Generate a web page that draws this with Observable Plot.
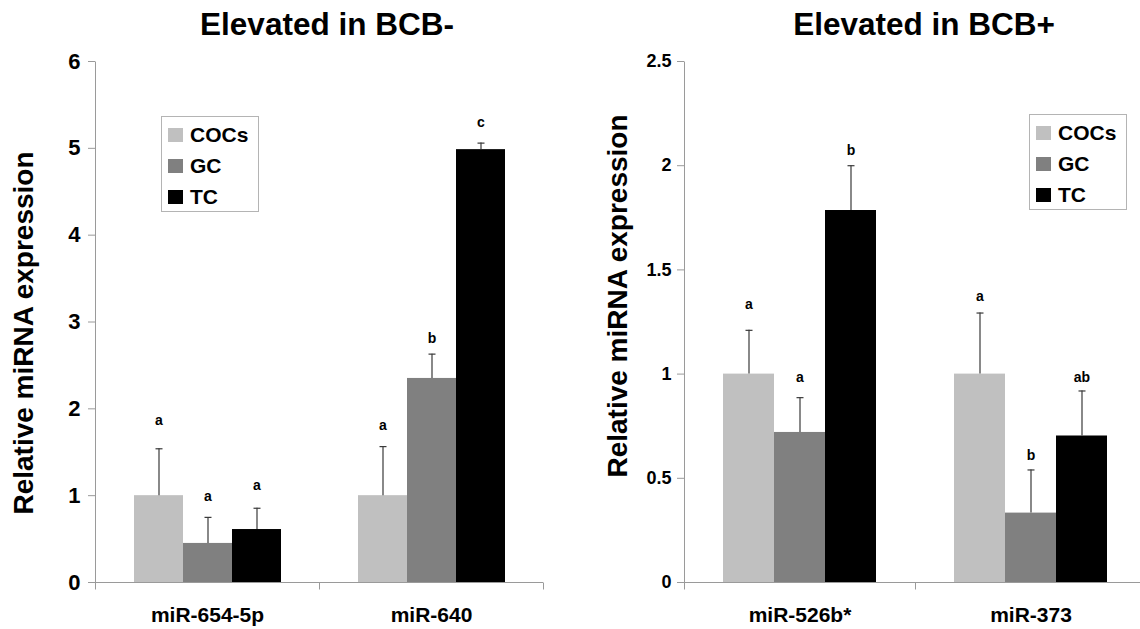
<!DOCTYPE html>
<html>
<head>
<meta charset="utf-8">
<script src="https://cdn.jsdelivr.net/npm/d3@7"></script>
<script src="https://cdn.jsdelivr.net/npm/@observablehq/plot@0.6"></script>
<style>
  body { margin: 0; background: #fff; }
  #root { position: relative; width: 1140px; height: 629px; overflow: hidden; background: #fff;
          font-family: "Liberation Sans", Arial, Helvetica, sans-serif; }
  .title { font-size: 31.5px; font-weight: bold; line-height: 32px; text-align: center; width: 400px; color: #000;
           white-space: nowrap; }
  .ylab { font-size: 28px; font-weight: bold; line-height: 30px; height: 30px; width: 520px; text-align: center;
          transform: rotate(-90deg); color: #000; white-space: nowrap; }
  .legend { border: 1px solid #b4b4b4; background: #fff; box-sizing: border-box; }
  .row { position: absolute; left: 6px; height: 20px; line-height: 20px; display: flex; align-items: center;
         font-size: 21px; font-weight: bold; color: #000; white-space: nowrap; }
  .sw { width: 15px; height: 14px; margin-right: 7px; flex: none; }
</style>
</head>
<body>
<div id="root"></div>
<script>
// ---------- data ----------
const series = ["COCs", "GC", "TC"];
const colors = ["#c0c0c0", "#808080", "#000000"];

const leftTitle = "Elevated in BCB-";
const leftGroups = ["miR-654-5p", "miR-640"];
const leftValues = [[1.0, 0.45, 0.61], [1.0, 2.35, 4.985]];
const leftSD = [[0.54, 0.30, 0.245], [0.565, 0.28, 0.075]];
const leftLetters = [["a", "a", "a"], ["a", "b", "c"]];
const leftLetterY = [[1.87, 0.99, 1.12], [1.81, 2.81, 5.30]];
const leftTicks = [0, 1, 2, 3, 4, 5, 6];

const rightTitle = "Elevated in BCB+";
const rightGroups = ["miR-526b*", "miR-373"];
const rightValues = [[1.0, 0.72, 1.785], [1.0, 0.333, 0.703]];
const rightSD = [[0.21, 0.167, 0.215], [0.293, 0.207, 0.216]];
const rightLetters = [["a", "a", "b"], ["a", "b", "ab"]];
const rightLetterY = [[1.336, 0.982, 2.075], [1.373, 0.611, 0.982]];
const rightTicks = [0, 0.5, 1, 1.5, 2, 2.5];

const yLabel = "Relative miRNA expression";

// ---------- layout ----------
const H = 629, MT = 61, MB = 47;
const axisGray = "#9a9a9a";
const errColor = "#3a3a3a";

function panel({groups, values, sds, letters, letterY, ticks, tickFont, tickPad, marginLeft, marginRight, width, padOuter}) {
  const data = groups.flatMap((g, gi) => series.map((s, si) => ({
    group: g, series: s, value: values[gi][si], sd: sds[gi][si],
    letter: letters[gi][si], ly: letterY[gi][si]
  })));
  const plotH = H - MT - MB;
  const tickSym = {draw(c) { c.moveTo(0, 0); c.lineTo(0, 7); }};
  const axisSym = {draw(c) { c.moveTo(0, 7); c.lineTo(0, -plotH); }};
  const capSym = {draw(c) { c.moveTo(-3.5, 0); c.lineTo(3.5, 0); }};
  return Plot.plot({
    width, height: H, marginLeft, marginRight, marginTop: MT, marginBottom: MB,
    style: {fontFamily: "'Liberation Sans', Arial, Helvetica, sans-serif", background: "transparent", overflow: "visible"},
    fx: {domain: groups, padding: 0, axis: null, label: null},
    x: {domain: series, paddingInner: 0, paddingOuter: padOuter, axis: null},
    y: {domain: [0, ticks[ticks.length - 1]], axis: null},
    color: {domain: series, range: colors},
    marks: [
      Plot.barY(data, {fx: "group", x: "series", y1: 0, y2: "value", fill: "series"}),
      Plot.ruleY([0], {stroke: axisGray, strokeWidth: 1}),
      Plot.dot([groups[0]], {fx: d => d, x: null, y: null, frameAnchor: "bottom-left", symbol: axisSym, r: 1, fill: "none", stroke: axisGray, strokeWidth: 1}),
      Plot.dot(groups.slice(1), {fx: d => d, x: null, y: null, frameAnchor: "bottom-left", symbol: tickSym, r: 1, fill: "none", stroke: axisGray, strokeWidth: 1}),
      Plot.dot([groups[groups.length - 1]], {fx: d => d, x: null, y: null, frameAnchor: "bottom-right", symbol: tickSym, r: 1, fill: "none", stroke: axisGray, strokeWidth: 1}),
      Plot.ruleX(data, {fx: "group", x: "series", y1: "value", y2: d => d.value + d.sd, stroke: errColor, strokeWidth: 1.2}),
      Plot.dot(data, {fx: "group", x: "series", y: d => d.value + d.sd, symbol: capSym, r: 1, fill: "none", stroke: errColor, strokeWidth: 1.2}),
      Plot.text(data, {fx: "group", x: "series", y: "ly", text: "letter", fontSize: 14, fontWeight: "bold", fill: "#000"}),
      Plot.axisY({ticks, tickSize: 7, tickPadding: tickPad, fontSize: tickFont, fontWeight: "bold", color: "#000", stroke: axisGray, label: null, tickFormat: d => String(d)}),
      Plot.axisFx({anchor: "bottom", tickSize: 0, tickPadding: 25, fontSize: 21, fontWeight: "bold", color: "#000", label: null})
    ]
  });
}

const root = document.getElementById("root");

function place(el, left, top) {
  el.style.position = "absolute";
  el.style.left = left + "px";
  el.style.top = top + "px";
  root.appendChild(el);
  return el;
}

const leftPlot = panel({groups: leftGroups, values: leftValues, sds: leftSD, letters: leftLetters, letterY: leftLetterY,
  ticks: leftTicks, tickFont: 22, tickPad: 8, marginLeft: 94, marginRight: 27, width: 570, padOuter: 0.745});
place(leftPlot, 0, 0);

const rightPlot = panel({groups: rightGroups, values: rightValues, sds: rightSD, letters: rightLetters, letterY: rightLetterY,
  ticks: rightTicks, tickFont: 18, tickPad: 6, marginLeft: 113, marginRight: 0, width: 576, padOuter: 0.726});
place(rightPlot, 570, 0);

function div(cls, text) {
  const d = document.createElement("div");
  d.className = cls;
  if (text != null) d.textContent = text;
  return d;
}

// titles
place(div("title", leftTitle), 327 - 200, 8);
place(div("title", rightTitle), 924 - 200, 8);

// y labels (rotated)
place(div("ylab", yLabel), 24 - 260, 333 - 15);
place(div("ylab", yLabel), 618 - 260, 296 - 15);

// legends
function legend(left, top) {
  const box = div("legend");
  box.style.width = "98px";
  box.style.height = "96px";
  series.forEach((s, i) => {
    const row = div("row");
    row.style.top = (8 + 31 * i) + "px";
    const sw = div("sw");
    sw.style.background = colors[i];
    row.appendChild(sw);
    row.appendChild(document.createTextNode(s));
    box.appendChild(row);
  });
  place(box, left, top);
}
legend(161, 116);
legend(1029, 114);
</script>
</body>
</html>
